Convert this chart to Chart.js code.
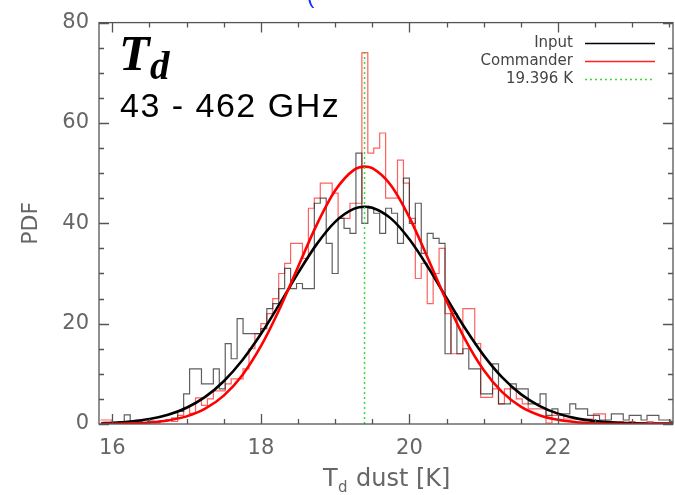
<!DOCTYPE html>
<html>
<head>
<meta charset="utf-8">
<script src="https://cdn.jsdelivr.net/npm/chart.js@4/dist/chart.umd.min.js"></script>
<style>
  html, body { margin: 0; padding: 0; background: #fff; }
</style>
</head>
<body>
<canvas id="chart" width="675" height="495"></canvas>
<script>
// histogram bins (K)
const binStart = 15.84;
const binWidth = 0.08;

// PDF histograms, one value per bin
const inputHist = [
  0, 0.3, 0, 0.5, 1.8, 0.6, 0.5, 0.3, 0.6, 0.5, 0.7, 0.8, 1.2, 2.5,
  6, 11, 11, 8, 8, 11, 7, 16, 13, 21, 18, 18, 18,
  19, 23, 24, 27, 31, 27, 28, 27, 27, 44, 45, 36, 30, 41, 39, 38,
  54, 40, 43, 42, 38, 43, 42, 36, 49, 40, 44, 34, 38, 37, 36,
  14, 22, 14, 15, 11, 11, 6, 6, 12, 4, 4, 8, 7, 7, 4, 4, 6,
  1.7, 3, 2, 2, 4, 3, 3, 1.7, 1.7, 0.8, 0.8, 2, 2, 0.8, 1.7, 1.7, 0.8, 1.7, 1.7, 0.8, 0.8, 0.5
];
const commanderHist = [
  0.8, 0.8, 0.3, 0.3, 0.3, 0.2, 0.3, 0.3, 0.5, 0.2, 0.5, 0.8, 0.5, 1.7,
  3.3, 2.1, 5.2, 3.7, 5, 6.6, 6.6, 8, 9, 9, 11, 15, 18, 20, 22,
  25, 30, 32, 36, 36, 33, 43, 45, 48, 48, 46, 41, 41, 44, 44, 74,
  54, 55, 58, 45, 45, 52.6, 48, 41, 29, 32, 24, 30, 35, 22, 14, 14, 23, 23, 16,
  5.3, 5.3, 7, 4, 7, 7, 5, 4, 3, 3, 3, 0.2, 1.7, 1.7, 1, 1, 1, 1, 1, 2, 2,
  0.5, 0.5, 0.5, 0.3, 0.5, 0.3, 0.3, 0.5, 0.3, 0.3, 0.3, 0.3
];

// fitted curves, read at these temperatures
const fitX = [15.85, 16, 16.25, 16.5, 16.75, 17, 17.25, 17.5, 17.75, 18, 18.25, 18.5, 18.75, 19, 19.25, 19.4,
  19.5, 19.75, 20, 20.25, 20.5, 20.75, 21, 21.25, 21.5, 21.75, 22, 22.25, 22.5, 22.75, 23, 23.25, 23.5, 23.55];
const inputFit = [0.15, 0.24, 0.5, 0.98, 1.84, 3.24, 5.4, 8.53, 12.71, 17.92, 23.88, 30.07, 35.8, 40.29, 42.87, 43.3,
  43.1, 40.98, 36.82, 31.28, 25.11, 19.07, 13.68, 9.28, 5.95, 3.61, 2.07, 1.12, 0.57, 0.28, 0.13, 0.05, 0.02, 0.02];
const commanderFit = [0.02, 0.04, 0.12, 0.3, 0.71, 1.52, 3.05, 5.66, 9.73, 15.5, 22.88, 31.29, 39.64, 46.52, 50.6, 51.3,
  50.99, 47.6, 41.18, 33.0, 24.51, 16.86, 10.75, 6.35, 3.47, 1.76, 0.83, 0.36, 0.15, 0.05, 0.01, 0, 0, 0];

const peakT = 19.396;
const peakLine = [0, 74];

const xTicks = [16, 18, 20, 22];
const yTicks = [0, 20, 40, 60, 80];
const legendLabels = ["Input", "Commander", peakT.toFixed(3) + " K"];

const xMinor = 0.5;
const yMinor = 5;

const histPoints = (vals) =>
  vals.map((v, i) => ({ x: binStart + i * binWidth, y: v }))
    .concat([{ x: binStart + vals.length * binWidth, y: vals[vals.length - 1] }]);
const fitPoints = (vals) => fitX.map((t, i) => ({ x: t, y: vals[i] }));

const axisGrey = "#666";

// box and inward ticks, IDL style
const frame = {
  id: "frame",
  afterDatasetsDraw(chart) {
    const { ctx, chartArea: a, scales: { x, y } } = chart;
    ctx.save();
    ctx.strokeStyle = "#555";
    ctx.lineWidth = 1.3;
    ctx.strokeRect(a.left, a.top, a.right - a.left, a.bottom - a.top);
    ctx.beginPath();
    for (let i = 0; ; i++) {
      const v = 16 + i * xMinor;
      if (v > x.max) break;
      const px = Math.round(x.getPixelForValue(v)) + 0.5;
      const len = xTicks.includes(v) ? 10 : 5;
      ctx.moveTo(px, a.bottom); ctx.lineTo(px, a.bottom - len);
      ctx.moveTo(px, a.top); ctx.lineTo(px, a.top + len);
    }
    for (let i = 0; ; i++) {
      const v = i * yMinor;
      if (v > y.max) break;
      const py = Math.round(y.getPixelForValue(v)) + 0.5;
      const len = yTicks.includes(v) ? 10 : 5;
      ctx.moveTo(a.left, py); ctx.lineTo(a.left + len, py);
      ctx.moveTo(a.right, py); ctx.lineTo(a.right - len, py);
    }
    ctx.stroke();
    ctx.restore();
  }
};

// labels, legend and axis titles
const notes = {
  id: "notes",
  afterDraw(chart) {
    const { ctx, chartArea: a } = chart;
    ctx.save();

    // big T_d
    ctx.fillStyle = "#000";
    ctx.textBaseline = "alphabetic";
    ctx.textAlign = "left";
    ctx.font = "bold italic 50px 'Liberation Serif'";
    ctx.fillText("T", 119, 70);
    ctx.font = "bold italic 39px 'Liberation Serif'";
    ctx.fillText("d", 150, 79);

    ctx.font = "34px 'Liberation Sans'";
    ctx.letterSpacing = "1.5px";
    ctx.fillText("43 - 462 GHz", 120, 117);
    ctx.letterSpacing = "0px";

    // legend
    const rows = [43, 61, 79];
    const styles = [
      { color: "#000", dash: [] },
      { color: "#ff2020", dash: [] },
      { color: "#33dd33", dash: [2, 3] }
    ];
    ctx.font = "15px 'DejaVu Sans'";
    ctx.textAlign = "right";
    ctx.textBaseline = "middle";
    legendLabels.forEach((label, i) => {
      ctx.fillStyle = "#444";
      ctx.fillText(label, 573, rows[i]);
      ctx.beginPath();
      ctx.strokeStyle = styles[i].color;
      ctx.lineWidth = 1.5;
      ctx.setLineDash(styles[i].dash);
      ctx.moveTo(585, rows[i] + 0.5);
      ctx.lineTo(655, rows[i] + 0.5);
      ctx.stroke();
    });
    ctx.setLineDash([]);

    // y title
    ctx.fillStyle = axisGrey;
    ctx.font = "22px 'DejaVu Sans'";
    ctx.textAlign = "center";
    ctx.save();
    ctx.translate(31, (a.top + a.bottom) / 2);
    ctx.rotate(-Math.PI / 2);
    ctx.fillText("PDF", 0, 0);
    ctx.restore();

    // x title with subscript
    ctx.textAlign = "left";
    ctx.textBaseline = "alphabetic";
    ctx.font = "24px 'DejaVu Sans'";
    ctx.fillText("T", 323, 486);
    ctx.font = "15px 'DejaVu Sans'";
    ctx.fillText("d", 338, 492);
    ctx.font = "24px 'DejaVu Sans'";
    ctx.fillText("dust [K]", 356, 486);

    // clipped heading glyph at the very top
    ctx.fillStyle = "#1030ff";
    ctx.font = "22px 'Liberation Sans'";
    ctx.fillText("(", 307, 3);

    ctx.restore();
  }
};

new Chart(document.getElementById("chart"), {
  type: "line",
  data: {
    datasets: [
      {
        label: legendLabels[2],
        data: peakLine.map((v) => ({ x: peakT, y: v })),
        borderColor: "#33dd33",
        borderWidth: 1.5,
        borderDash: [2, 3]
      },
      {
        label: "Commander fit",
        data: fitPoints(commanderFit),
        borderColor: "#ff0000",
        borderWidth: 2.6,
        cubicInterpolationMode: "monotone"
      },
      {
        label: "Input fit",
        data: fitPoints(inputFit),
        borderColor: "#000",
        borderWidth: 2.6,
        cubicInterpolationMode: "monotone"
      },
      {
        label: legendLabels[0],
        data: histPoints(inputHist),
        borderColor: "rgba(40,40,40,0.75)",
        borderWidth: 1.2,
        stepped: true
      },
      {
        label: legendLabels[1],
        data: histPoints(commanderHist),
        borderColor: "rgba(255,30,30,0.7)",
        borderWidth: 1.2,
        stepped: true
      }
    ]
  },
  options: {
    responsive: false,
    animation: false,
    layout: { padding: { top: 11, right: 2, left: 0, bottom: 0 } },
    elements: { point: { radius: 0 } },
    plugins: {
      legend: { display: false },
      tooltip: { enabled: false }
    },
    scales: {
      x: {
        type: "linear",
        min: 15.82,
        max: 23.55,
        grid: { display: false, drawTicks: false },
        border: { display: false },
        ticks: {
          color: axisGrey,
          font: { family: "DejaVu Sans", size: 21 },
          padding: 12,
          maxRotation: 0
        },
        afterBuildTicks: (s) => { s.ticks = xTicks.map((v) => ({ value: v })); },
        afterFit: (s) => { s.height = 71; }
      },
      y: {
        min: 0,
        max: 80,
        grid: { display: false, drawTicks: false },
        border: { display: false },
        ticks: {
          color: axisGrey,
          font: { family: "DejaVu Sans", size: 21 },
          padding: 10
        },
        afterBuildTicks: (s) => { s.ticks = yTicks.map((v) => ({ value: v })); },
        afterFit: (s) => { s.width = 99; }
      }
    }
  },
  plugins: [frame, notes]
});
</script>
</body>
</html>
